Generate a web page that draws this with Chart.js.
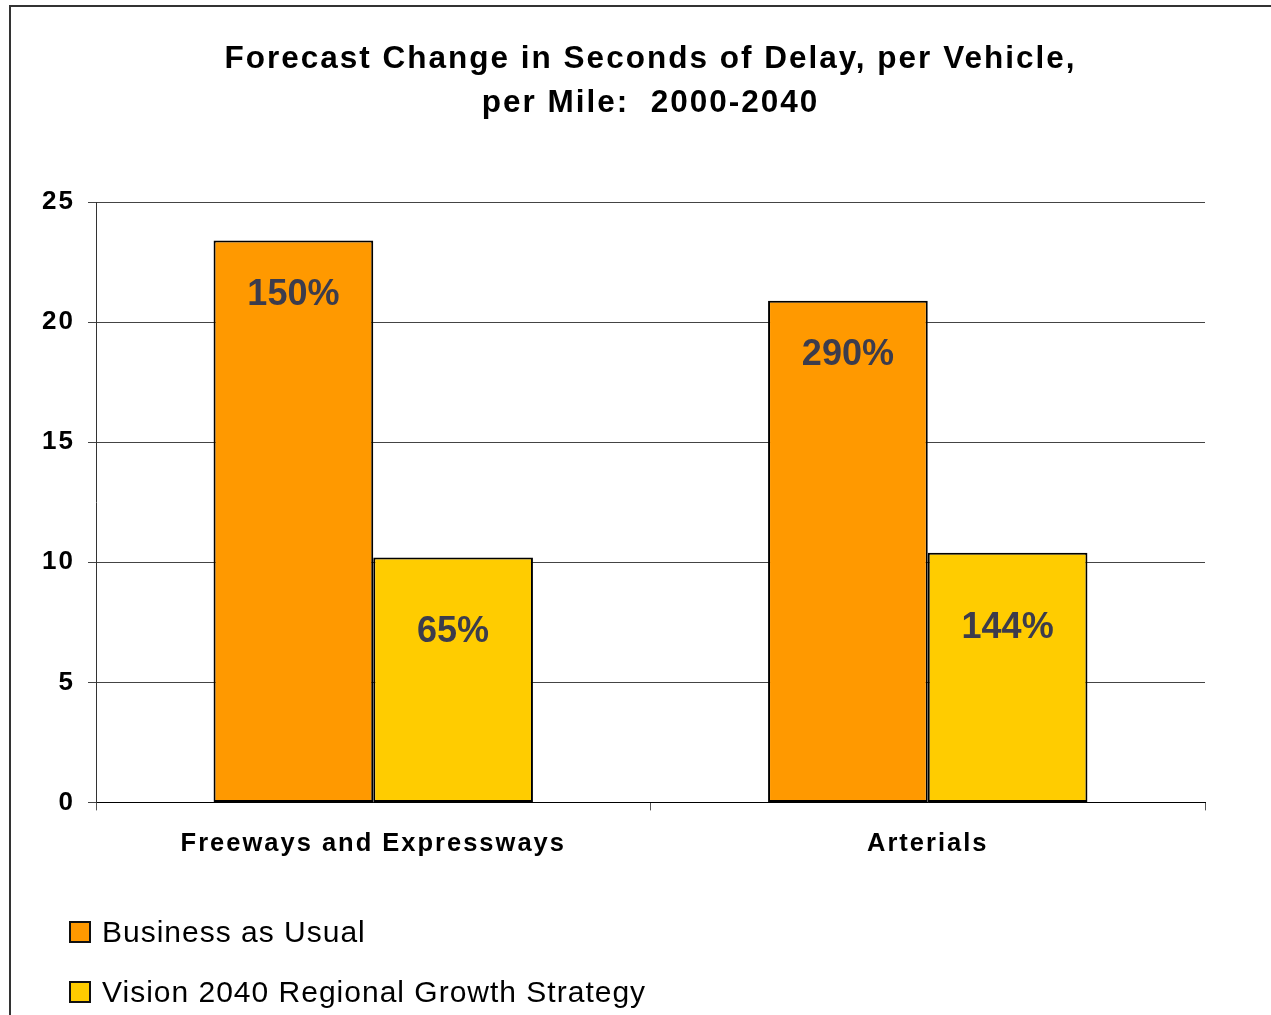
<!DOCTYPE html>
<html>
<head>
<meta charset="utf-8">
<script src="https://cdn.jsdelivr.net/npm/chart.js@4/dist/chart.umd.min.js"></script>
<style>
  html, body { margin: 0; padding: 0; background: #fff; }
  #wrap { position: relative; width: 1271px; height: 1015px; overflow: hidden; }
  #frame { position: absolute; left: 9px; top: 5px; right: -10px; bottom: -10px;
           border-top: 2px solid #333; border-left: 2px solid #333; }
  #grafico { position: absolute; left: 0; top: 0; }
  #legenda { position: absolute; left: 69px; top: 912px; font-family: "Liberation Sans", Arial, sans-serif;
             font-size: 30px; letter-spacing: 1px; color: #000; }
  #legenda div { height: 40px; line-height: 40px; margin-bottom: 20px; white-space: nowrap; }
  #legenda span.caixa { display: inline-block; width: 18px; height: 18px; border: 2px solid #111;
                        vertical-align: -1px; margin-right: 11px; }
</style>
</head>
<body>
<div id="wrap">
  <div id="frame"></div>
  <canvas id="grafico" width="1271" height="1015"></canvas>
  <div id="legenda"></div>
</div>
<script>
const categorias = ['Freeways and Expressways', 'Arterials'];
const serieNomes = ['Business as Usual', 'Vision 2040 Regional Growth Strategy'];
const negocio = [23.4, 20.9];
const visao = [10.2, 10.4];
const negocioPct = ['150%', '290%'];
const visaoPct = ['65%', '144%'];
const yTicks = [0, 5, 10, 15, 20, 25];

const cores = ['#FF9900', '#FFCC00'];
const fonte = '"Liberation Sans", Arial, sans-serif';

// wider letter spacing for the title and axis labels
const espacamento = {
  id: 'espacamento',
  beforeDraw(chart) { chart.ctx.letterSpacing = '2px'; }
};

// percent labels drawn inside each bar, below its top edge
const rotulosPct = {
  id: 'rotulosPct',
  afterDatasetsDraw(chart) {
    const ctx = chart.ctx;
    const desloc = [54, 75];
    ctx.save();
    ctx.letterSpacing = '0px';
    ctx.font = 'bold 36px ' + fonte;
    ctx.fillStyle = '#3c3c4c';
    ctx.textAlign = 'center';
    ctx.textBaseline = 'middle';
    chart.data.datasets.forEach((ds, i) => {
      chart.getDatasetMeta(i).data.forEach((bar, j) => {
        ctx.fillText(ds.pct[j], bar.x, bar.y + desloc[i]);
      });
    });
    ctx.restore();
  }
};

const ctx = document.getElementById('grafico').getContext('2d');
const grafico = new Chart(ctx, {
  type: 'bar',
  data: {
    labels: categorias,
    datasets: [{
      label: serieNomes[0],
      data: negocio,
      pct: negocioPct,
      backgroundColor: cores[0],
      borderColor: '#000',
      borderWidth: 2,
      borderSkipped: false
    }, {
      label: serieNomes[1],
      data: visao,
      pct: visaoPct,
      backgroundColor: cores[1],
      borderColor: '#000',
      borderWidth: 2,
      borderSkipped: false
    }]
  },
  options: {
    responsive: false,
    animation: false,
    layout: { padding: { left: 0, right: 66, top: 0, bottom: 138 } },
    datasets: { bar: { barPercentage: 1, categoryPercentage: 0.576 } },
    plugins: {
      legend: { display: false },
      tooltip: { enabled: false },
      title: {
        display: true,
        fullSize: false,
        text: ['Forecast Change in Seconds of Delay, per Vehicle,', 'per Mile:  2000-2040'],
        color: '#000',
        font: { family: fonte, size: 31.5, weight: 'bold', lineHeight: 1.4 },
        padding: { top: 37, bottom: 77 }
      }
    },
    scales: {
      x: {
        offset: true,
        grid: { display: true, drawOnChartArea: false, drawTicks: true, tickLength: 8, color: '#555', lineWidth: 1 },
        border: { display: true, color: '#000', width: 1 },
        ticks: {
          color: '#000',
          padding: 18,
          font: { family: fonte, size: 25.5, weight: 'bold' }
        }
      },
      y: {
        min: 0,
        max: 25,
        afterBuildTicks(scale) { scale.ticks = yTicks.map(v => ({ value: v })); },
        afterFit(scale) { scale.width = 96; },
        grid: { color: '#444', lineWidth: 1, tickLength: 8 },
        border: { display: true, color: '#333', width: 1 },
        ticks: {
          color: '#000',
          padding: 13,
          font: { family: fonte, size: 26, weight: 'bold' }
        }
      }
    }
  },
  plugins: [espacamento, rotulosPct]
});

// legend below the chart, one series per line
const legenda = document.getElementById('legenda');
grafico.data.datasets.forEach(ds => {
  const item = document.createElement('div');
  const caixa = document.createElement('span');
  caixa.className = 'caixa';
  caixa.style.background = ds.backgroundColor;
  item.appendChild(caixa);
  item.appendChild(document.createTextNode(ds.label));
  legenda.appendChild(item);
});
</script>
</body>
</html>
